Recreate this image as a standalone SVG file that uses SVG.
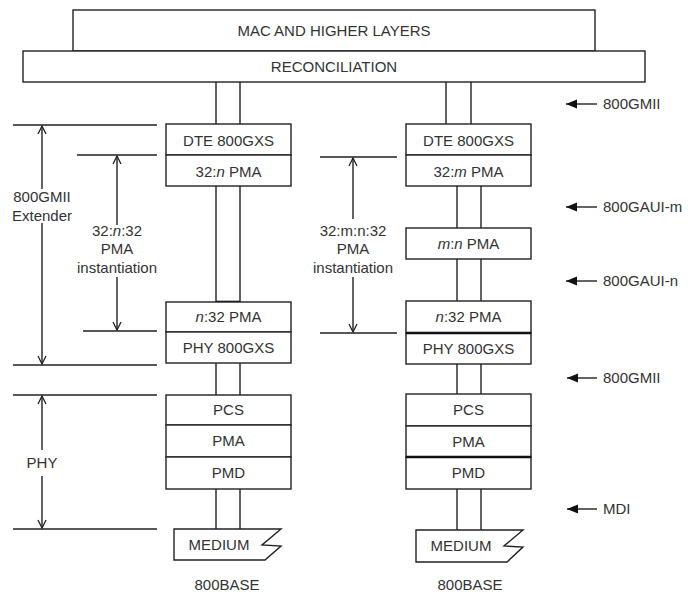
<svg xmlns="http://www.w3.org/2000/svg" width="688" height="595" viewBox="0 0 688 595">
<defs>
<style>
.b{fill:#fff;stroke:#222;stroke-width:1.4}
.l{fill:none;stroke:#222;stroke-width:1.4}
.tk{fill:none;stroke:#111;stroke-width:2.6}
text{font-family:"Liberation Sans",Arial,sans-serif;font-size:15px;fill:#333}
.c{text-anchor:middle}
</style>
<marker id="open" markerWidth="10" markerHeight="10" refX="9" refY="5" orient="auto" markerUnits="userSpaceOnUse">
<path d="M1,1 L9,5 L1,9" fill="none" stroke="#222" stroke-width="1.3"/>
</marker>
<marker id="fill" markerWidth="12" markerHeight="10" refX="11" refY="5" orient="auto" markerUnits="userSpaceOnUse">
<path d="M0,0.5 L11,5 L0,9.5 Z" fill="#111"/>
</marker>
</defs>
<rect width="688" height="595" fill="#fff"/>

<g id="mac">
<rect class="b" x="73" y="10" width="522" height="41"/>
<text class="c" x="334" y="36">MAC AND HIGHER LAYERS</text>
</g>
<g id="reconciliation">
<rect class="b" x="23" y="51" width="622" height="31"/>
<text class="c" x="334" y="72">RECONCILIATION</text>
</g>

<g id="connectors">
<!-- left column pipes -->
<path class="l" d="M216,82 V124 M240,82 V124"/>
<path class="l" d="M216,186 V302 M240,186 V302"/>
<path class="tk" d="M216,302 H240"/>
<path class="l" d="M216,363 V395 M240,363 V395"/>
<path class="l" d="M216,489 V529 M240,489 V529"/>
<!-- right column pipes -->
<path class="l" d="M446,82 V124 M471,82 V124"/>
<path class="l" d="M457,186 V228 M481,186 V228"/>
<path class="l" d="M457,259 V301 M481,259 V301"/>
<path class="l" d="M457,364 V394 M481,364 V394"/>
<path class="l" d="M457,489 V530 M481,489 V530"/>
<!-- left dimension lines -->
<path class="l" d="M13,125 H157 M13,365 H157"/>
<path class="l" d="M42,189 V126" marker-end="url(#open)"/>
<path class="l" d="M42,223 V364" marker-end="url(#open)"/>
<path class="l" d="M77,155 H157 M83,331 H157"/>
<path class="l" d="M117,225 V156" marker-end="url(#open)"/>
<path class="l" d="M117,277 V330" marker-end="url(#open)"/>
<path class="l" d="M13,395 H157 M13,529 H157"/>
<path class="l" d="M42,450 V396" marker-end="url(#open)"/>
<path class="l" d="M42,476 V528" marker-end="url(#open)"/>
<!-- right dimension lines -->
<path class="l" d="M320,157 H397 M320,333 H397"/>
<path class="l" d="M353,219 V158" marker-end="url(#open)"/>
<path class="l" d="M353,277 V332" marker-end="url(#open)"/>
<!-- interface arrows -->
<path class="l" d="M597,104 H566" marker-end="url(#fill)"/>
<path class="l" d="M597,207 H566" marker-end="url(#fill)"/>
<path class="l" d="M597,281 H566" marker-end="url(#fill)"/>
<path class="l" d="M597,378 H567" marker-end="url(#fill)"/>
<path class="l" d="M597,509 H567" marker-end="url(#fill)"/>
</g>

<g id="dim-labels">
<text class="c" x="42" y="202">800GMII</text>
<text class="c" x="42" y="221">Extender</text>
<text class="c" x="117" y="236">32:<tspan font-style="italic">n</tspan>:32</text>
<text class="c" x="117" y="254">PMA</text>
<text class="c" x="117" y="273">instantiation</text>
<text class="c" x="42" y="468">PHY</text>
<text class="c" x="353" y="236">32:m:n:32</text>
<text class="c" x="353" y="254">PMA</text>
<text class="c" x="353" y="273">instantiation</text>
</g>

<g id="if-labels">
<text x="603" y="109">800GMII</text>
<text x="603" y="212">800GAUI-m</text>
<text x="603" y="286">800GAUI-n</text>
<text x="603" y="383">800GMII</text>
<text x="603" y="514">MDI</text>
</g>

<!-- left column -->
<g id="l-dte">
<rect class="b" x="166" y="124" width="125" height="31"/>
<text class="c" x="228.5" y="146">DTE 800GXS</text>
</g>
<g id="l-pma32n">
<rect class="b" x="166" y="155" width="125" height="31"/>
<text class="c" x="228.5" y="177">32:<tspan font-style="italic">n</tspan> PMA</text>
</g>
<g id="l-pman32">
<rect class="b" x="166" y="302" width="125" height="30"/>
<text class="c" x="228.5" y="322"><tspan font-style="italic">n</tspan>:32 PMA</text>
</g>
<g id="l-phy">
<rect class="b" x="166" y="332" width="125" height="31"/>
<text class="c" x="228.5" y="353">PHY 800GXS</text>
</g>
<g id="l-pcs">
<rect class="b" x="166" y="395" width="125" height="30"/>
<text class="c" x="228.5" y="415">PCS</text>
</g>
<g id="l-pma">
<rect class="b" x="166" y="425" width="125" height="32"/>
<text class="c" x="228.5" y="446">PMA</text>
</g>
<g id="l-pmd">
<rect class="b" x="166" y="457" width="125" height="32"/>
<text class="c" x="228.5" y="478">PMD</text>
</g>
<g id="l-medium">
<path class="b" d="M174,529 H281 L262,545 L281,546 L265,560 H174 Z"/>
<text class="c" x="219" y="550">MEDIUM</text>
</g>
<g id="l-base">
<text class="c" x="227" y="590">800BASE</text>
</g>

<!-- right column -->
<g id="r-dte">
<rect class="b" x="406" y="124" width="125" height="31"/>
<text class="c" x="468.5" y="146">DTE 800GXS</text>
</g>
<g id="r-pma32m">
<rect class="b" x="406" y="155" width="125" height="31"/>
<text class="c" x="468.5" y="177">32:<tspan font-style="italic">m</tspan> PMA</text>
</g>
<g id="r-pmamn">
<rect class="b" x="406" y="228" width="125" height="31"/>
<text class="c" x="468.5" y="249"><tspan font-style="italic">m</tspan>:<tspan font-style="italic">n</tspan> PMA</text>
</g>
<g id="r-pman32">
<rect class="b" x="406" y="301" width="125" height="32"/>
<text class="c" x="468.5" y="322"><tspan font-style="italic">n</tspan>:32 PMA</text>
</g>
<g id="r-phy">
<rect class="b" x="406" y="333" width="125" height="31"/>
<path class="tk" d="M406,333 H531"/>
<text class="c" x="468.5" y="354">PHY 800GXS</text>
</g>
<g id="r-pcs">
<rect class="b" x="406" y="394" width="125" height="32"/>
<text class="c" x="468.5" y="415">PCS</text>
</g>
<g id="r-pma">
<rect class="b" x="406" y="426" width="125" height="31"/>
<text class="c" x="468.5" y="447">PMA</text>
</g>
<g id="r-pmd">
<rect class="b" x="406" y="457" width="125" height="32"/>
<path class="tk" d="M406,457 H531"/>
<text class="c" x="468.5" y="478">PMD</text>
</g>
<g id="r-medium">
<path class="b" d="M416,530 H523 L504,546 L523,547 L507,562 H416 Z"/>
<text class="c" x="461" y="551">MEDIUM</text>
</g>
<g id="r-base">
<text class="c" x="470" y="590">800BASE</text>
</g>
</svg>
